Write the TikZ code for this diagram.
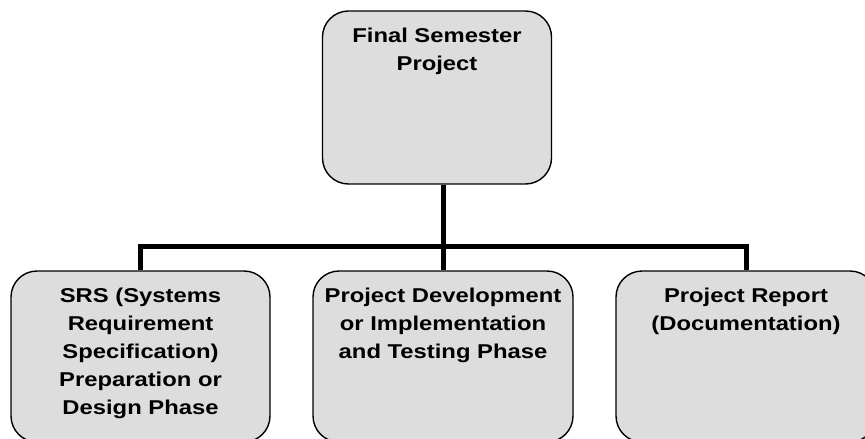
\documentclass[tikz,border=0pt]{standalone}
\usepackage{fontspec}
\setmainfont{Liberation Sans}[FakeStretch=1.19]
\begin{document}
\begin{tikzpicture}[x=1pt,y=-1pt,
  box/.style={draw=black, line width=1.4pt, fill=boxgray, rounded corners=26pt, inner sep=0pt},
  conn/.style={line width=5pt, line join=miter, line cap=rect}]
\definecolor{boxgray}{HTML}{DDDDDD}
\newcommand{\boxtext}[3]{\parbox[c][#2pt][t]{#1pt}{\centering\fontsize{20pt}{28.2pt}\selectfont\bfseries\rule{0pt}{31pt}#3}}
\useasboundingbox (0,0) rectangle (865,439);
\clip (0,0) rectangle (865,439);
\node[box] (top) at (437,97.5) {\boxtext{229}{173}{Final Semester\\Project}};
\node[box] (left) at (140.5,356.5) {\boxtext{259}{171}{SRS (Systems\\Requirement\\Specification)\\Preparation or\\Design Phase}};
\node[box] (mid) at (443,356.5) {\boxtext{260}{171}{Project Development\\or Implementation\\and Testing Phase}};
\node[box] (right) at (746,356.5) {\boxtext{260}{171}{Project Report\\(Documentation)}};
\coordinate (bus) at (443,246);
\draw[conn, line cap=butt] (mid.north |- top.south) -- (mid.north);
\draw[conn, line cap=butt] (left.north) -- (left.north |- bus) -- (right.north |- bus) -- (right.north);
\end{tikzpicture}
\end{document}
